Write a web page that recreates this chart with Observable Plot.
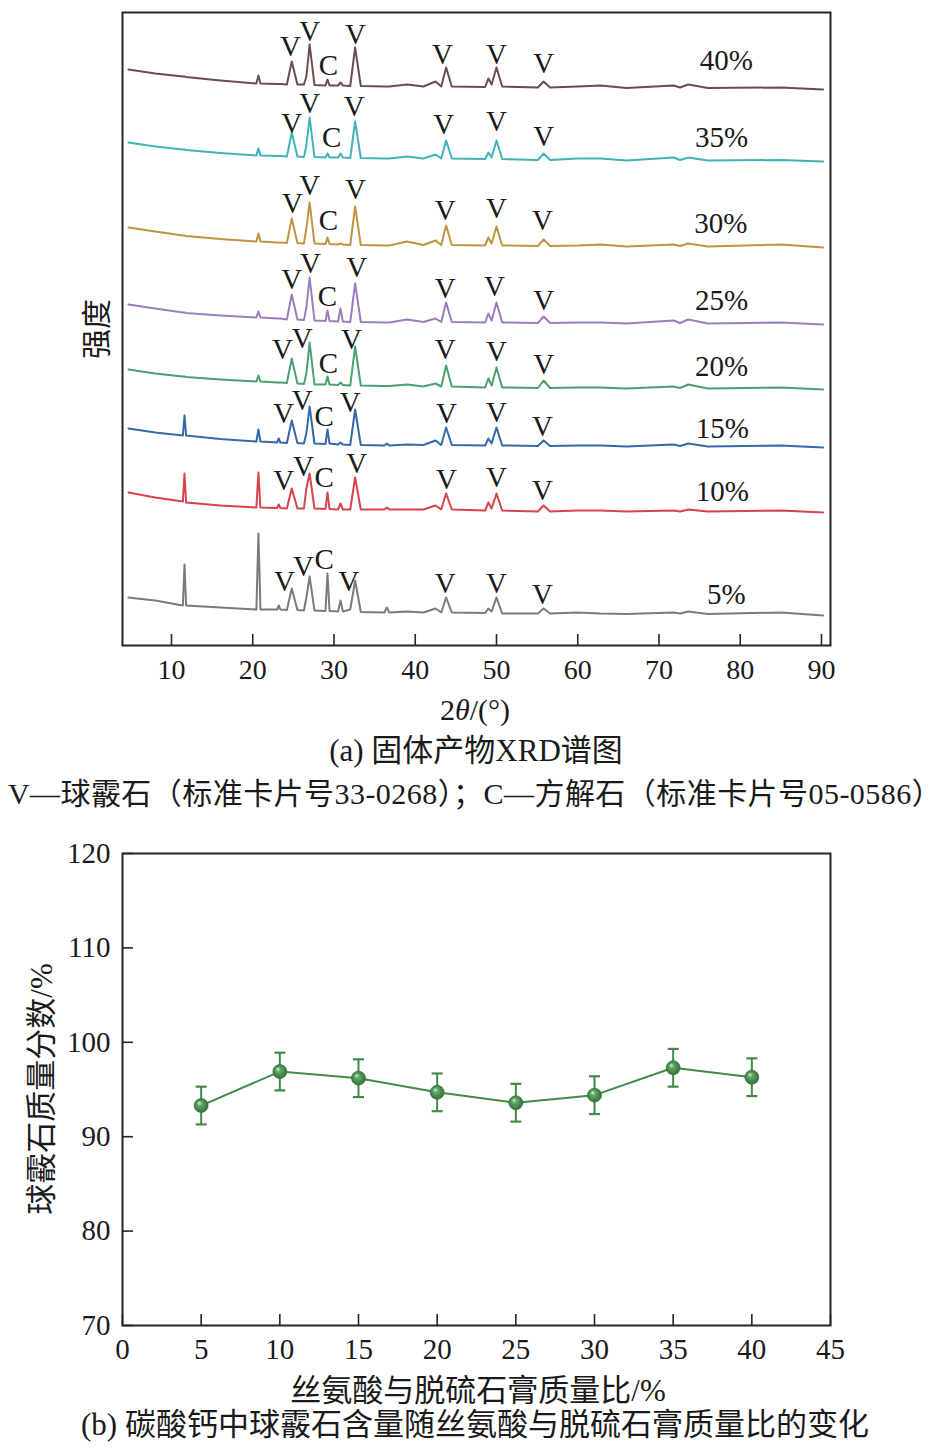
<!DOCTYPE html>
<html><head><meta charset="utf-8">
<script src="https://cdn.jsdelivr.net/npm/d3@7"></script>
<script src="https://cdn.jsdelivr.net/npm/@observablehq/plot@0.6"></script>
<style>
html,body{margin:0;padding:0;background:#fff;}
#page{position:relative;width:942px;height:1452px;overflow:hidden;background:#fff;font-family:"Liberation Serif","Noto Sans CJK SC",serif;color:#1a1a1a;}
.panel{position:absolute;left:0;}
.t{position:absolute;width:942px;text-align:center;white-space:nowrap;line-height:40px;height:40px;}
.rot{position:absolute;white-space:nowrap;line-height:40px;height:40px;transform:translate(-50%,-50%) rotate(-90deg);}
</style></head><body>
<div id="page">
  <div id="pa" class="panel" style="top:0"></div>
  <div class="rot" style="left:97px;top:329px;font-size:30px">强度</div>
  <div class="t" style="left:4px;top:690px;font-size:30px">2<i>θ</i>/(°)</div>
  <div class="t" style="left:5px;top:731px;font-size:31px">(a) 固体产物XRD谱图</div>
  <div class="t" style="left:4px;top:774px;font-size:30px;letter-spacing:0.45px">V—球霰石（标准卡片号33-0268）；C—方解石（标准卡片号05-0586）</div>
  <div id="pb" class="panel" style="top:820px"></div>
  <div class="rot" style="left:42px;top:1089px;font-size:31px">球霰石质量分数/%</div>
  <div class="t" style="left:7px;top:1371px;font-size:31px">丝氨酸与脱硫石膏质量比/%</div>
  <div class="t" style="left:4px;top:1405px;font-size:31px">(b) 碳酸钙中球霰石含量随丝氨酸与脱硫石膏质量比的变化</div>
</div>
<script>
// ---------- Panel (a): XRD patterns ----------
const samples = ["40%", "35%", "30%", "25%", "20%", "15%", "10%", "5%"];
const traceColors = ["#6d4c4e", "#41b3b6", "#bf9440", "#9b7dbf", "#4b9f70", "#3568a8", "#d8434b", "#7b7b7b"];
// vertical stacking offset of each pattern (a.u.)
const offsets = [556, 484, 398, 321, 256, 198, 133, 30];

const twoTheta = [4.7, 8, 11.4, 11.6, 11.8, 16, 20.45, 20.7, 20.95, 23.0, 23.2, 23.4, 24.2, 24.8, 25.5, 26.3, 26.6, 27.0, 27.6, 28.95, 29.2, 29.45, 30.5, 30.8, 31.1, 32.0, 32.6, 33.3, 36.2, 36.5, 36.8, 39.0, 41, 42.5, 43.2, 43.8, 44.5, 48.6, 49.0, 49.4, 50.0, 50.7, 55.1, 55.8, 56.6, 60, 62.8, 66, 71.8, 72.6, 73.6, 76, 85, 90.2];

const I40 = [20,16,13,13,12.5,9,6,14,6,5.5, 5.5,5.5,5,28,5,5,13,45,4.5,4, 10,4,4,7,4,3.5,42,3.5,3,3, 3,5,3,8,3,22,3,2.5,11,5, 22,3,2,8,2,3,4,1.5,4,2, 5,1.5,2,0];
const I35 = [19,15,12,12,11.5,8.5,6,13,6,5.5, 5.5,5.5,5,29,5,4.5,16,44,4.5,4, 8,4,4,8,4,3.5,40,3.5,3,3, 3,5,3,7,3,21,3,2.5,9,4, 21,2.5,1.5,8,1.5,3,3,1,4,1.5, 4,1,1.5,0];
const I30 = [20,16,12,12,11.5,8.5,6,14,6,5, 5,5,4.5,29,4.5,4,19,45,4,3.5, 10,3.5,3,4,3,2.5,41,2.5,2,2, 2,6,2.5,7,2.5,22,2.5,2,10,4, 21,2,1.5,8,1.5,2,3,1,3,1.5, 4,1,3,0];
const I25 = [20,16,12,12,11.5,9,7,13,7,6, 6,6,5,30,5,4.5,17,47,4,3.5, 14,3.5,3,16,3,2.5,41,2.5,2,2, 2,5,2.5,6,2.5,22,2.5,2,11,4, 22,2,1.5,8,1.5,2,2,1,4,1.5, 5,1,2,0];
const I20 = [20,16,13,13,12.5,10,8,14,8,7, 7,7,6.5,31,6,5.5,16,47,5,5, 13,5,4.5,7,4.5,4,43,4,3.5,3.5, 3.5,5,3,6,3,24,3,2,11,4, 22,2,1.5,9,1.5,2,2,1,3,1.5, 5,1,2,0];
const I15 = [19,15,12,32,12,8.5,6,18,6,5, 9,5,4.5,27,4.5,4,14,41,4,3.5, 18,4,3,5,3,2.5,38,2.5,2,4, 2,3,2.5,7,2.5,20,2.5,2,9,4, 20,2,1.5,7,1.5,2,2,1,3,1.5, 4,1,2,0];
const I10 = [20,15,11,39,10,7,5,40,5,4.5, 8,4.5,4,24,4,4,24,39,4,3.5, 20,3.5,3,9,3,3,35,3,3,5, 3,3,3,7,3,19,3,2,10,4, 19,2,1,7,1,2,2,1,2,1, 3,1,2,0];
const I5  = [18,15,10,51,10,8,6,82,6,6, 10,6,5.5,27,5.5,5,18,39,5,4.5, 42,4.5,4,15,4,6,35,3.5,3,8, 3,4,3,7,3,18,3,2.5,7,4, 18,2,2,7,2,3,2,1.5,3,2, 4,1.5,3,0];
const intensities = [I40, I35, I30, I25, I20, I15, I10, I5];

// phase marks (V = vaterite, C = calcite)
const peakLetters = ["V", "V", "C", "V", "V", "V", "V"];
const labelTheta = [
  [24.65, 27.0, 29.3, 32.65, 43.35, 50.0, 55.8],
  [24.8, 27.0, 29.7, 32.5, 43.5, 50.0, 55.8],
  [24.9, 27.0, 29.3, 32.65, 43.7, 50.0, 55.65],
  [24.8, 27.1, 29.2, 32.8, 43.7, 49.75, 55.8],
  [23.65, 26.1, 29.3, 32.15, 43.7, 50.0, 55.8],
  [23.8, 26.1, 28.8, 32.0, 43.85, 50.0, 55.65],
  [23.8, 26.25, 28.8, 32.8, 43.85, 50.0, 55.65],
  [23.9, 26.25, 28.8, 31.8, 43.7, 50.0, 55.65]
];
const labelHeight = [
  [34, 49, 15, 46, 26, 26, 17],
  [29, 49, 15, 46, 28, 31, 16],
  [35, 53, 18, 49, 28, 30, 18],
  [36, 52, 19, 48, 27, 29, 15],
  [31, 42, 17, 41, 31, 29, 16],
  [25, 38, 22, 36, 25, 26, 12],
  [23, 37, 26, 40, 24, 26, 13],
  [25, 40, 47, 25, 23, 23, 12]
];
const pctTheta = [78.3, 77.7, 77.6, 77.7, 77.7, 77.8, 77.8, 78.3];
const pctHeight = [20, 15, 15, 15, 14, 10, 12, 12];
const xTicksA = [10, 20, 30, 40, 50, 60, 70, 80, 90];

const traceRows = [];
samples.forEach((s, i) => twoTheta.forEach((t, j) => traceRows.push({sample: s, theta: t, I: offsets[i] + intensities[i][j]})));
const peakLabels = [];
samples.forEach((s, i) => peakLetters.forEach((L, j) => peakLabels.push({letter: L, theta: labelTheta[i][j], I: offsets[i] + labelHeight[i][j]})));
const pctLabels = samples.map((s, i) => ({text: s, theta: pctTheta[i], I: offsets[i] + pctHeight[i]}));

const serif = '"Liberation Serif","Noto Sans CJK SC",serif';
const ink = "#1a1a1a";
const frameColor = "#262626";

const plotA = Plot.plot({
  width: 942, height: 690,
  marginLeft: 122, marginRight: 112, marginTop: 12, marginBottom: 45,
  x: {domain: [3.97, 91.11]},
  y: {domain: [0, 633], axis: null},
  color: {domain: samples, range: traceColors},
  style: {fontFamily: serif, fontSize: "28px", color: ink, background: "transparent", overflow: "visible"},
  marks: [
    Plot.line(traceRows, {x: "theta", y: "I", z: "sample", stroke: "sample", strokeWidth: 2, strokeLinejoin: "round", curve: "linear"}),
    Plot.text(peakLabels, {x: "theta", y: "I", text: "letter", lineAnchor: "bottom", fontSize: 29, fill: ink}),
    Plot.text(pctLabels, {x: "theta", y: "I", text: "text", lineAnchor: "bottom", fontSize: 29, fill: ink}),
    Plot.ruleX(xTicksA, {insetTop: 622, stroke: frameColor, strokeWidth: 1.6}),
    Plot.axisX({ticks: xTicksA, tickSize: 0, tickPadding: 14, label: null, fontSize: 28, tickFormat: d => String(d)}),
    Plot.frame({stroke: frameColor, strokeWidth: 2})
  ]
});
document.getElementById("pa").appendChild(plotA);

// ---------- Panel (b): vaterite content ----------
const ratio = [5, 10, 15, 20, 25, 30, 35, 40];
const vaterite = [93.3, 96.9, 96.2, 94.7, 93.6, 94.4, 97.3, 96.3];
const errorBar = [2.0, 2.0, 2.0, 2.0, 2.0, 2.0, 2.0, 2.0];
const xTicksB = [0, 5, 10, 15, 20, 25, 30, 35, 40, 45];
const yTicksB = [70, 80, 90, 100, 110, 120];

const pts = ratio.map((r, i) => ({r, v: vaterite[i], lo: vaterite[i] - errorBar[i], hi: vaterite[i] + errorBar[i]}));
const green = "#428a48";
const capSymbol = {draw(ctx) { ctx.moveTo(-5.5, 0); ctx.lineTo(5.5, 0); }};

const plotB = Plot.plot({
  width: 942, height: 560,
  marginLeft: 122, marginRight: 112, marginTop: 33, marginBottom: 55,
  x: {domain: [0, 45]},
  y: {domain: [70, 120]},
  style: {fontFamily: serif, fontSize: "29px", color: ink, background: "transparent", overflow: "visible"},
  marks: [
    Plot.ruleX(xTicksB, {insetTop: 461, stroke: frameColor, strokeWidth: 1.6}),
    Plot.ruleY(yTicksB, {insetRight: 697, stroke: frameColor, strokeWidth: 1.6}),
    Plot.axisX({ticks: xTicksB, tickSize: 0, tickPadding: 13, label: null, fontSize: 29, tickFormat: d => String(d)}),
    Plot.axisY({ticks: yTicksB, tickSize: 0, tickPadding: 12, label: null, fontSize: 29, tickFormat: d => String(d)}),
    Plot.line(pts, {x: "r", y: "v", stroke: green, strokeWidth: 2}),
    Plot.ruleX(pts, {x: "r", y1: "lo", y2: "hi", stroke: green, strokeWidth: 2}),
    Plot.dot(pts, {x: "r", y: "hi", symbol: capSymbol, fill: "none", stroke: green, strokeWidth: 2.2}),
    Plot.dot(pts, {x: "r", y: "lo", symbol: capSymbol, fill: "none", stroke: green, strokeWidth: 2.2}),
    Plot.dot(pts, {x: "r", y: "v", r: 7, fill: "url(#vBall)", stroke: "#2f6e36", strokeWidth: 0.6}),
    Plot.frame({stroke: frameColor, strokeWidth: 2})
  ]
});
const defs = d3.select(plotB).insert("defs", ":first-child");
const grad = defs.append("radialGradient").attr("id", "vBall")
  .attr("cx", "50%").attr("cy", "50%").attr("r", "55%").attr("fx", "35%").attr("fy", "30%");
grad.append("stop").attr("offset", "0%").attr("stop-color", "#e2f2df");
grad.append("stop").attr("offset", "30%").attr("stop-color", "#62aa66");
grad.append("stop").attr("offset", "100%").attr("stop-color", "#2b6a33");
document.getElementById("pb").appendChild(plotB);
</script>
</body></html>
